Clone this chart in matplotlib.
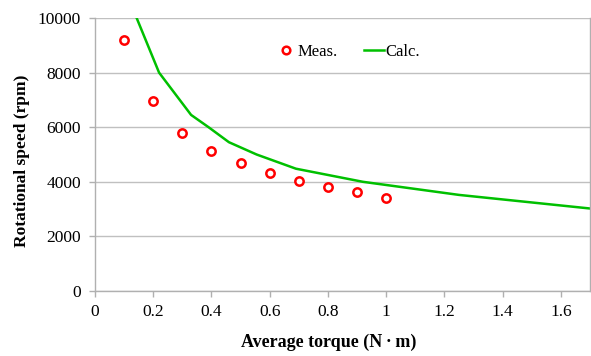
import matplotlib
matplotlib.use("Agg")
import matplotlib.pyplot as plt
from matplotlib.lines import Line2D

meas_torque = [0.1, 0.2, 0.3, 0.4, 0.5, 0.6, 0.7, 0.8, 0.9, 1.0]
meas_speed = [9200, 6950, 5800, 5130, 4680, 4330, 4020, 3800, 3620, 3420]

calc_torque = [0.12, 0.22, 0.33, 0.39, 0.46, 0.555, 0.69, 0.92, 1.25, 1.72]
calc_speed = [10600, 8000, 6450, 6000, 5450, 5000, 4480, 4000, 3520, 3000]

xticks = [0, 0.2, 0.4, 0.6, 0.8, 1, 1.2, 1.4, 1.6]
xticklabels = ["0", "0.2", "0.4", "0.6", "0.8", "1", "1.2", "1.4", "1.6"]
yticks = [0, 2000, 4000, 6000, 8000, 10000]

plt.rcParams['font.family'] = ['Liberation Serif', 'DejaVu Serif']

W, H = 591, 356
fig = plt.figure(figsize=(W/100, H/100), dpi=100)
ax = fig.add_axes([95/W, 1 - 291/H, (590 - 95)/W, (291 - 18)/H])

ax.plot(meas_torque, meas_speed, linestyle='none', marker='o', markersize=6,
        markerfacecolor='white', markeredgecolor='#ff0000', markeredgewidth=1.8,
        label='Meas.', zorder=3, clip_on=False)
ax.plot(calc_torque, calc_speed, color='#00c000', linewidth=1.8, label='Calc.', zorder=2)

ax.set_xlim(0, 1.7)
ax.set_ylim(0, 10000)
ax.set_xticks(xticks)
ax.set_xticklabels(xticklabels)
ax.set_yticks(yticks)
ax.yaxis.grid(True, color='#c0c0c0', linewidth=1)
ax.set_axisbelow(True)

ax.spines['top'].set_visible(False)
for s in ['left', 'bottom', 'right']:
    ax.spines[s].set_color('#b0b0b0')
    ax.spines[s].set_linewidth(1)

ax.tick_params(axis='both', colors='#b0b0b0', labelcolor='black', labelsize=12.5,
               direction='out', length=4, width=1)
ax.tick_params(axis='y', pad=6)
ax.tick_params(axis='x', pad=5)

fig.text(329/W, 1 - 342/H, 'Average torque (N\u2009\u00b7\u2009m)', fontsize=13,
         fontweight='bold', ha='center', va='center')
fig.text(22/W, 1 - 161/H, 'Rotational speed (rpm)', fontsize=12.5,
         fontweight='bold', ha='center', va='center', rotation=90)

handles = [
    Line2D([], [], linestyle='none', marker='o', markersize=5.5, markerfacecolor='white',
           markeredgecolor='#ff0000', markeredgewidth=1.8),
    Line2D([], [], color='#00c000', linewidth=1.8),
]
fig.legend(handles, ['Meas.', 'Calc.'], loc='center', bbox_to_anchor=(348/W, 1 - 51.5/H),
           ncol=2, frameon=False, fontsize=12, handlelength=1.2,
           columnspacing=1.6, handletextpad=0.1, borderpad=0, borderaxespad=0)

fig.savefig('out.png', dpi=100)
